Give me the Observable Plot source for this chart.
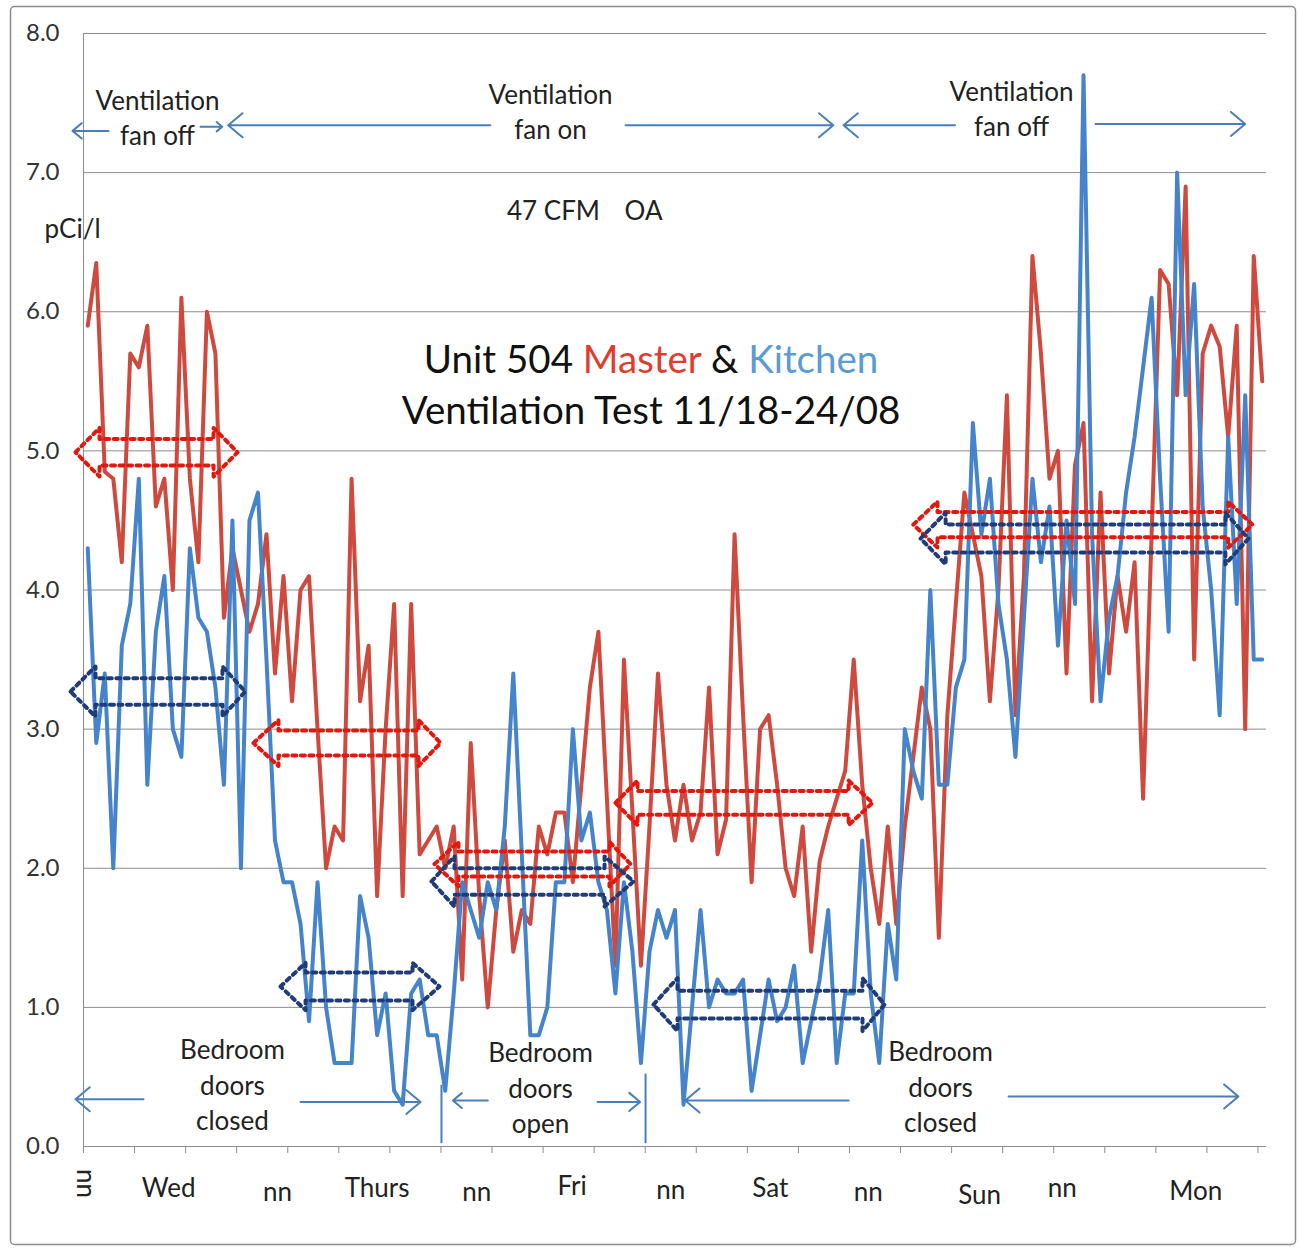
<!DOCTYPE html>
<html><head><meta charset="utf-8">
<script src="https://cdn.jsdelivr.net/npm/d3@7"></script>
<script src="https://cdn.jsdelivr.net/npm/@observablehq/plot@0.6"></script>
<style>
html,body{margin:0;padding:0;background:#fff;}
#chart{width:1299px;height:1249px;}
</style></head>
<body><div id="chart"></div>
<script>
// ---- data (pCi/l), one reading per category slot ----
const master = [5.9,6.35,4.85,4.8,4.2,5.7,5.6,5.9,4.6,4.8,4.0,6.1,4.8,4.2,6.0,5.7,3.8,4.3,4.0,3.7,
3.9,4.4,3.4,4.1,3.2,4.0,4.1,3.0,2.0,2.3,2.2,4.8,3.2,3.6,1.8,3.0,3.9,1.8,3.9,2.1,
2.2,2.3,2.0,2.3,1.2,2.9,1.8,1.0,1.7,2.2,1.4,1.7,1.6,2.3,2.1,2.4,2.4,1.9,2.6,3.3,
3.7,2.5,1.3,3.5,2.4,1.3,2.3,3.4,2.6,2.2,2.6,2.2,2.4,3.3,2.1,2.35,4.4,3.1,1.9,3.0,
3.1,2.6,2.0,1.8,2.3,1.4,2.05,2.3,2.5,2.7,3.5,2.6,2.0,1.6,2.3,1.6,2.3,2.8,3.3,3.0,
1.5,3.1,3.9,4.7,4.4,4.1,3.2,4.0,5.4,3.1,4.1,6.4,5.7,4.8,5.0,3.4,4.9,5.2,3.2,4.7,
3.4,4.1,3.7,4.2,2.5,4.4,6.3,6.2,5.4,6.9,3.5,5.7,5.9,5.75,5.1,5.9,3.0,6.4,5.5];
const kitchen = [4.3,2.9,3.4,2.0,3.6,3.9,4.8,2.6,3.7,4.1,3.0,2.8,4.3,3.8,3.7,3.3,2.6,4.5,2.0,4.5,
4.7,3.5,2.2,1.9,1.9,1.6,0.9,1.9,1.0,0.6,0.6,0.6,1.8,1.5,0.8,1.1,0.4,0.3,1.1,1.2,
0.8,0.8,0.4,1.1,1.9,1.7,1.5,1.9,1.7,2.3,3.4,2.1,0.8,0.8,1.0,1.9,1.9,3.0,2.2,2.4,
1.9,1.7,1.1,1.9,1.4,0.6,1.4,1.7,1.5,1.7,0.3,1.0,1.7,1.0,1.2,1.1,1.1,1.2,0.4,0.8,
1.2,0.9,1.0,1.3,0.6,0.9,1.2,1.7,0.6,1.1,1.1,2.2,1.1,0.6,1.6,1.2,3.0,2.7,2.5,4.0,
2.6,2.6,3.3,3.5,5.2,4.4,4.8,3.9,3.5,2.8,3.8,4.8,4.2,4.6,3.6,4.5,3.9,7.7,4.4,3.2,
3.8,4.1,4.7,5.1,5.6,6.1,4.8,3.7,7.0,5.4,6.2,4.6,4.0,3.1,5.1,3.9,5.4,3.5,3.5];
const yTicks = [0,1,2,3,4,5,6,7,8];
const dayLabels = ["Wed","nn","Thurs","nn","Fri","nn","Sat","nn","Sun","nn","Mon"];
const dayLabelX = [9.5,22.3,34.0,45.7,56.9,68.5,80.2,91.7,104.8,114.5,130.2];
const dayLabelY = [-0.302,-0.331,-0.302,-0.331,-0.288,-0.316,-0.302,-0.331,-0.352,-0.302,-0.323];
const xTickIdx = d3.range(0, 139, 6).map(d => d - 0.5);

// ---- annotations (data units: slot index, pCi/l) ----
// [tipLeft, baseLeft, baseRight, tipRight, yCenter, bodyHalf, headHalf]
const redBlocks = [
  [-1.44,1.38,14.78,17.6,4.99,0.095,0.175],
  [19.47,22.41,38.86,41.45,2.9,0.09,0.165],
  [40.74,43.56,61.3,63.77,2.03,0.09,0.16],
  [62.0,64.6,89.4,92.2,2.47,0.085,0.16],
  [97.0,99.84,134.0,136.85,4.47,0.09,0.165]];
const navyBlocks = [
  [-2.03,0.91,15.83,18.5,3.27,0.095,0.18],
  [22.65,25.59,38.16,41.33,1.15,0.1,0.17],
  [40.39,43.09,60.72,64.13,1.905,0.095,0.18],
  [66.47,69.29,91.03,93.62,1.02,0.1,0.19],
  [97.85,100.8,133.67,136.38,4.37,0.1,0.185]];
const arrows = [
  [2.44,7.30,-1.79,7.30],[13.25,7.33,15.8,7.33],[47.3,7.34,16.5,7.34],
  [63.2,7.34,87.6,7.34],[101.9,7.34,88.8,7.34],[118.4,7.35,136.0,7.35],
  [6.55,0.34,-1.44,0.34],[25.0,0.32,39.1,0.32],[47.0,0.33,42.9,0.33],
  [59.9,0.32,64.9,0.32],[89.4,0.33,70.2,0.33],[108.2,0.36,135.2,0.36]];
const dividers = [[41.56,0.44,0.02],[65.54,0.52,0.02]];
const notes = [
  {t:"Ventilation\nfan off", x:8.19, y:7.408},
  {t:"Ventilation\nfan on", x:54.37, y:7.45},
  {t:"Ventilation\nfan off", x:108.54, y:7.47},
  {t:"47 CFM", x:54.72, y:6.743},
  {t:"OA", x:65.3, y:6.743},
  {t:"pCi/l", x:-1.79, y:6.614},
  {t:"Bedroom\ndoors\nclosed", x:17.0, y:0.454},
  {t:"Bedroom\ndoors\nopen", x:53.2, y:0.4325},
  {t:"Bedroom\ndoors\nclosed", x:100.2, y:0.44}];

function blockPts(list) {
  const out = [];
  list.forEach((b, k) => {
    const [tl, bl, br, tr, yc, bh, hh] = b;
    [[tl,yc],[bl,yc+hh],[bl,yc+bh],[br,yc+bh],[br,yc+hh],[tr,yc],
     [br,yc-hh],[br,yc-bh],[bl,yc-bh],[bl,yc-hh],[tl,yc]]
      .forEach(([x,y]) => out.push({k, x, y}));
  });
  return out;
}

const rows = [];
master.forEach((v,i) => rows.push({i, v, s:"Master"}));
kitchen.forEach((v,i) => rows.push({i, v, s:"Kitchen"}));

const FONT = "Lato, 'Open Sans', sans-serif";
const chart = Plot.plot({
  width: 1299, height: 1249,
  marginLeft: 83, marginRight: 33, marginTop: 33, marginBottom: 103,
  x: {domain: [-0.5, 138.5], axis: null},
  y: {domain: [0, 8], axis: null},
  style: {fontFamily: FONT, background: "white", overflow: "visible"},
  marks: [
    Plot.ruleY(yTicks, {stroke: "#8c8c8c", strokeWidth: 1}),
    Plot.ruleX([-0.5], {stroke: "#8c8c8c", strokeWidth: 1}),
    Plot.axisY({ticks: yTicks, tickFormat: d => d.toFixed(1), tickSize: 0, tickPadding: 24,
                fontSize: 24, label: null, fill: "#333"}),
    Plot.axisX({ticks: xTickIdx, tickFormat: () => "", tickSize: 7, label: null, stroke: "#8c8c8c"}),
    Plot.text(dayLabels, {x: (d,i) => dayLabelX[i], y: (d,i) => dayLabelY[i], text: d => d,
                fontSize: 26, fill: "#222"}),
    Plot.text(["nn"], {x: -0.3, y: -0.266, text: d => d, rotate: 90, fontSize: 26, fill: "#222"}),
    Plot.line(rows.filter(d => d.s === "Master"), {x: "i", y: "v", stroke: "#cf4a3e", strokeWidth: 4, strokeLinejoin: "round"}),
    Plot.line(rows.filter(d => d.s === "Kitchen"), {x: "i", y: "v", stroke: "#4584cb", strokeWidth: 4, strokeLinejoin: "round"}),
    Plot.line(blockPts(redBlocks), {x: "x", y: "y", z: "k", stroke: "#e3170d", strokeWidth: 4, strokeDasharray: "4,4.5"}),
    Plot.line(blockPts(navyBlocks), {x: "x", y: "y", z: "k", stroke: "#1f3c78", strokeWidth: 4, strokeDasharray: "4,4.5"}),
    Plot.arrow(arrows, {x1: d => d[0], y1: d => d[1], x2: d => d[2], y2: d => d[3],
                stroke: "#4a7ebb", strokeWidth: 2, headLength: 14, headAngle: 80}),
    Plot.ruleX(dividers, {x: d => d[0], y1: d => d[1], y2: d => d[2], stroke: "#4a7ebb", strokeWidth: 2}),
    Plot.text(notes, {x: "x", y: "y", text: "t", fontSize: 26, fill: "#222", lineHeight: 1.35, lineAnchor: "middle"})
  ]
});

// title with multi-coloured words, placed through the chart's scales
const svg = d3.select(chart);
const sx = chart.scale("x"), sy = chart.scale("y");
const title = svg.append("text").attr("font-family", FONT).attr("font-size", 38.5)
  .attr("text-anchor", "middle").attr("fill", "#111");
const t1 = title.append("tspan").attr("x", sx.apply(66.25)).attr("y", sy.apply(5.65)).attr("dy", "0.35em");
t1.append("tspan").text("Unit 504 ");
t1.append("tspan").attr("fill", "#e33b2e").text("Master");
t1.append("tspan").text(" & ");
t1.append("tspan").attr("fill", "#5b9bd5").text("Kitchen");
title.append("tspan").attr("x", sx.apply(66.25)).attr("y", sy.apply(5.29)).attr("dy", "0.35em")
  .text("Ventilation Test 11/18-24/08");
svg.insert("rect", ":first-child").attr("x", 0).attr("y", 0).attr("width", 1299).attr("height", 1249).attr("fill", "white");
svg.append("rect").attr("x", 10.5).attr("y", 6.5).attr("width", 1285).attr("height", 1238)
  .attr("rx", 4).attr("fill", "none").attr("stroke", "#8c8c8c").attr("stroke-width", 1.5);
document.getElementById("chart").appendChild(chart);
</script>
</body></html>
